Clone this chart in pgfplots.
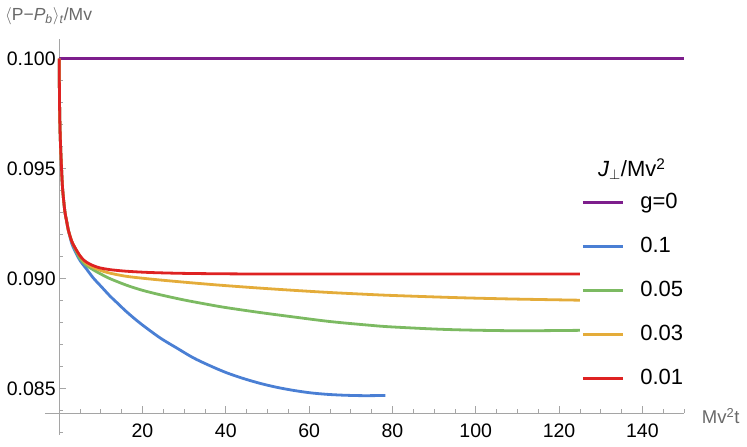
\documentclass[border=0pt]{standalone}
\usepackage{pgfplots}
\pgfplotsset{compat=1.18}
\usepackage{fontspec}
\setmainfont{Liberation Sans}
\definecolor{cPur}{RGB}{125,30,140}
\definecolor{cBlu}{RGB}{74,127,212}
\definecolor{cGrn}{RGB}{124,186,98}
\definecolor{cOra}{RGB}{228,172,58}
\definecolor{cRed}{RGB}{222,34,34}
\definecolor{axgray}{RGB}{165,165,165}
\definecolor{labgray}{RGB}{105,105,105}
\begin{document}
\begin{tikzpicture}[x=1pt,y=1pt]
\useasboundingbox (-45,-34) rectangle (702,413);
\begin{axis}[
  at={(0,0)}, anchor=south west,
  scale only axis, width=639pt, height=374pt,
  xmin=-3.4, xmax=150, ymin=0.08388, ymax=0.10089,
  axis x line=bottom, axis y line=middle,
  axis line style={draw=axgray, line width=0.7pt, -},
  xtick={20,40,60,80,100,120,140},
  minor xtick={5,10,...,150},
  ytick={0.085,0.090,0.095,0.100},
  minor ytick={0.084,0.086,0.087,0.088,0.089,0.091,0.092,0.093,0.094,0.096,0.097,0.098,0.099},
  tick align=inside, major tick length=7pt, minor tick length=4pt,
  tick style={draw=axgray, line width=0.7pt},
  scaled y ticks=false,
  yticklabel style={/pgf/number format/.cd, fixed, fixed zerofill, precision=3, /tikz/.cd},
  xticklabel style={yshift=-7pt},
  /pgf/number format/assume math mode=true,
  tick label style={font=\fontsize{19.5}{22}\selectfont, text=black},
  clip=false,
  legend style={at={(axis cs:125.3,0.09392)}, anchor=north west, draw=none, fill=none,
    font=\fontsize{22}{26}\selectfont, inner sep=0pt, row sep=22.9pt,
    nodes={inner sep=0pt, text height=16pt, text depth=5pt},
    /tikz/every odd column/.append style={column sep=16pt}},
  legend cell align=left,
  legend image code/.code={\draw[#1, line width=3pt] (0pt,0pt) -- (40pt,0pt);},
  every axis plot/.append style={line width=2.8pt, line join=round, line cap=butt},
]
\addplot[cPur] coordinates {(0,0.1) (150,0.1)};
\addlegendentry{g=0}
\addplot[cBlu, smooth, tension=0.5] coordinates {
(0,0.1000) (0.05,0.0988) (0.12,0.0976) (0.25,0.0965) (0.45,0.0955) (0.75,0.0943)
(1.0,0.0937) (1.4,0.0930) (1.8,0.0926) (2.2,0.0922) (3.0,0.0916) (3.8,0.09125)
(5.0,0.09082) (6.6,0.09042) (8.2,0.09002) (10.2,0.08961) (12.2,0.0892) (14.2,0.08884)
(16.2,0.08848) (19.4,0.08797) (24.2,0.0873) (28.2,0.08684) (32.2,0.08639) (36.2,0.08603)
(40.2,0.08571) (44.2,0.08545) (48.2,0.08523) (52.2,0.08505) (56.2,0.08491) (60.2,0.0848)
(64.2,0.08473) (68.2,0.08469) (72.2,0.08467) (75.3,0.08467) (78.3,0.08468)};
\addlegendentry{0.1}
\addplot[cGrn, smooth, tension=0.5] coordinates {
(0,0.1000) (0.05,0.0988) (0.12,0.0976) (0.25,0.0965) (0.45,0.0955) (0.75,0.0943)
(1.0,0.0937) (1.4,0.0930) (1.8,0.0926) (2.2,0.0922) (3.0,0.0917) (3.8,0.09135)
(5.0,0.0909) (6.5,0.0906) (8.2,0.09039) (10.2,0.09018) (12.2,0.08999) (16.2,0.08969)
(20,0.08946) (24.2,0.08926) (30,0.08902) (36.2,0.0888) (40.2,0.08867) (48.2,0.08845)
(56.2,0.08825) (65,0.08804) (74.6,0.08787) (79.4,0.0878) (90,0.0877) (98.6,0.08765)
(110.6,0.08762) (125,0.08764)};
\addlegendentry{0.05}
\addplot[cOra, smooth, tension=0.5] coordinates {
(0,0.1000) (0.05,0.0988) (0.12,0.0976) (0.25,0.0965) (0.45,0.0955) (0.75,0.0943)
(1.0,0.0937) (1.4,0.0930) (1.8,0.0926) (2.2,0.0922) (3.0,0.0917) (3.8,0.0914)
(5,0.09102) (6,0.09078) (7,0.09062) (8.2,0.0905) (10,0.09036) (12.2,0.09024) (16,0.0901)
(20,0.09001) (24.2,0.08993) (30,0.08983) (36.2,0.08973) (40.2,0.08967) (48.2,0.08956)
(56.2,0.08946) (65,0.08936) (74.6,0.08927) (79.4,0.08923) (90,0.08916) (98.6,0.08911)
(110,0.08906) (125,0.08901)};
\addlegendentry{0.03}
\addplot[cRed, smooth, tension=0.5] coordinates {
(0,0.1000) (0.05,0.0988) (0.12,0.0976) (0.25,0.0965) (0.45,0.0955) (0.75,0.0943)
(1.0,0.0937) (1.4,0.0930) (1.8,0.0926) (2.2,0.0922) (3.0,0.0917) (3.8,0.0914)
(5,0.09103) (6,0.09082) (7,0.09069) (8.2,0.09058) (9.8,0.09048) (12.2,0.0904)
(16,0.09033) (21.8,0.09027) (30,0.09023) (40,0.09021) (50,0.0902) (60,0.0902)
(80,0.0902) (100,0.0902) (125,0.0902)};
\addlegendentry{0.01}
\draw[axgray, line width=0.7pt] (axis cs:0,0.08388) -- (axis cs:0,0.08288);
\draw[axgray, line width=0.7pt] (axis cs:0,0.083) -- ++(4pt,0pt);
\end{axis}
\node[anchor=base west, text=labgray, font=\fontsize{17.5}{19}\selectfont, inner sep=0pt]
  at (-40,392.3) {$\langle$P−\textit{P}\textsubscript{\textit{b}}$\rangle$\textsubscript{\textit{t}}/Mv};
\node[anchor=base west, text=labgray, font=\fontsize{18.5}{20}\selectfont, inner sep=0pt]
  at (656.7,-10.3) {Mv\textsuperscript{2}t};
\node[anchor=base, text=black, font=\fontsize{22}{26}\selectfont, inner sep=0pt]
  at (586.7,236.3) {\textit{J}$_{\perp}$/Mv\textsuperscript{2}};
\end{tikzpicture}
\end{document}
